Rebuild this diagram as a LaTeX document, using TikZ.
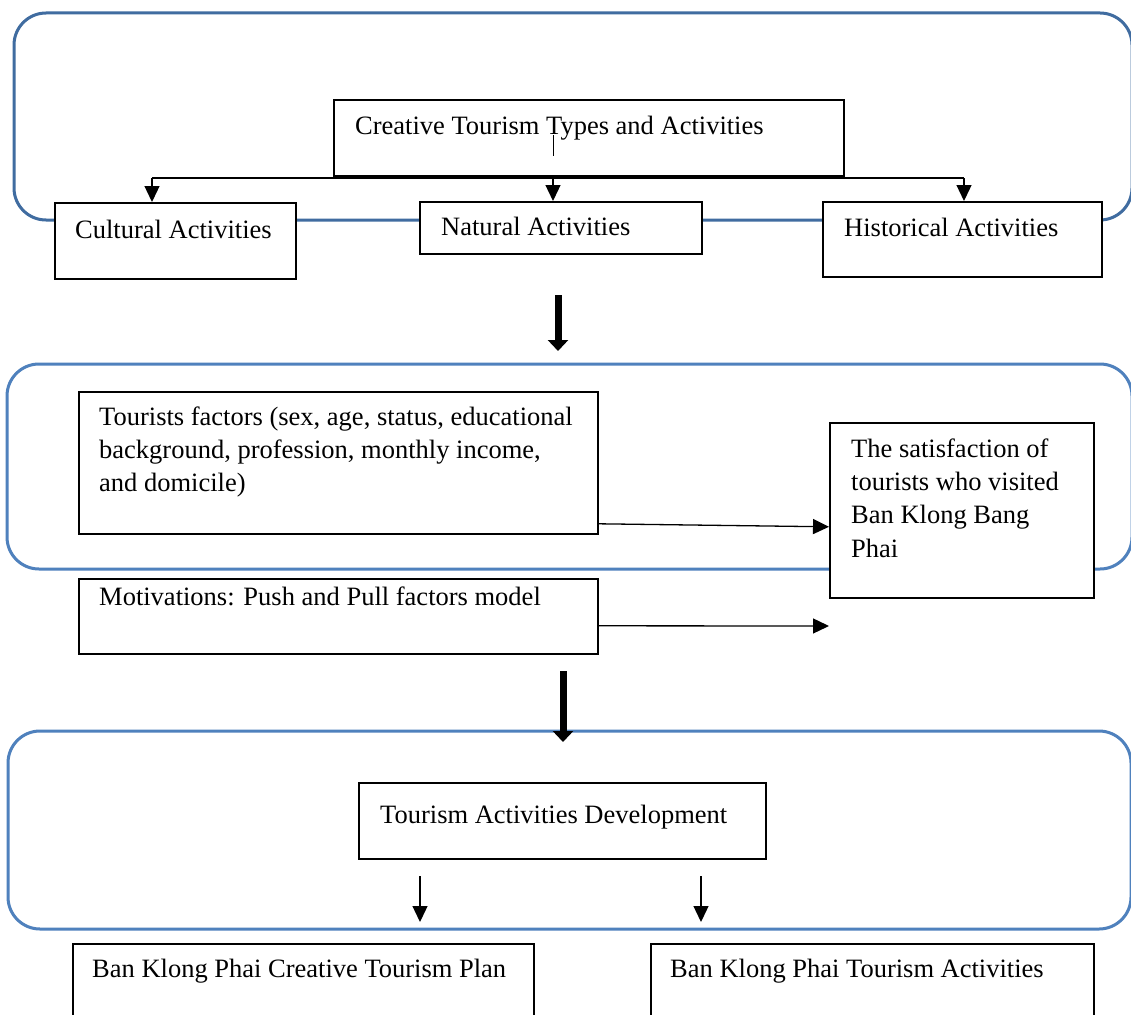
\documentclass[tikz,border=0pt]{standalone}
\usepackage{fontspec}
\setmainfont{Liberation Serif}
\usetikzlibrary{arrows.meta}
\definecolor{grpA}{RGB}{64,108,160}
\definecolor{grpB}{RGB}{79,129,189}
\begin{document}
\begin{tikzpicture}[x=1pt,y=-1pt,
  txt/.style={font=\fontsize{26.5}{33.3}\selectfont, inner sep=0pt},
  box/.style={draw, line width=1.8pt, fill=white, inner sep=0pt, anchor=north west},
  grp/.style={draw=grpB, line width=3pt, rounded corners=32pt},
  conn/.style={line width=1.3pt, -{Triangle[length=16pt,width=15pt]}},
  plain/.style={line width=1.3pt},
  big/.style={line width=7pt, -{Triangle[length=11pt,width=20pt]}}]
\useasboundingbox (0,0) rectangle (1131,1014);
\fill[white] (0,0) rectangle (1131,1014);

% group frames
\draw[grp, draw=grpA] (14,13) rectangle (1132,220);
\draw[grp] (7,364) rectangle (1132,569);
\draw[grp] (8,731) rectangle (1131,929);

% boxes
\node[box, minimum width=510pt, minimum height=76pt] (ct) at (333,99) {};
\node[box, minimum width=241pt, minimum height=76pt] (cul) at (54,202) {};
\node[box, minimum width=282pt, minimum height=52pt] (nat) at (419,201) {};
\node[box, minimum width=279pt, minimum height=75pt] (his) at (822,201) {};
\node[box, minimum width=519pt, minimum height=142pt] (tour) at (78,391) {};
\node[box, minimum width=264pt, minimum height=175pt] (sat) at (829,422) {};
\node[box, minimum width=519pt, minimum height=75pt] (mot) at (78,578) {};
\node[box, minimum width=407pt, minimum height=76pt] (tad) at (358,782) {};
\node[box, minimum width=461pt, minimum height=100pt] (plan) at (72,943) {};
\node[box, minimum width=443pt, minimum height=100pt] (act) at (650,943) {};

% texts
\node[txt, anchor=base west] (tct) at (355,134) {Creative Tourism Types and Activities};
\node[txt, anchor=base west] (tcul) at (75,238) {Cultural Activities};
\node[txt, anchor=base west] (tnat) at (441,235) {Natural Activities};
\node[txt, anchor=base west] (this) at (844,236) {Historical Activities};
\node[txt, anchor=north west, align=left] (ttour) at (99,401.7)
  {\strut Tourists factors (sex, age, status, educational\\background, profession, monthly income,\\and domicile)};
\node[txt, anchor=north west, align=left] (tsat) at (851,433.7)
  {\strut The satisfaction of\\tourists who visited\\Ban Klong Bang\\Phai};
\node[txt, anchor=base west] (tmot) at (99,605) {Motivations: Push and Pull factors model};
\node[txt, anchor=base west] (ttad) at (380,823) {Tourism Activities Development};
\node[txt, anchor=base west] (tplan) at (92,977) {Ban Klong Phai Creative Tourism Plan};
\node[txt, anchor=base west] (tact) at (670,977) {Ban Klong Phai Tourism Activities};

% small tick inside top box
\draw[line width=1pt] (553,135) -- (553,156);

% branching connector
\coordinate (b1) at (152,178);
\coordinate (b2) at (553,178);
\coordinate (b3) at (964,178);
\draw[plain] (b1) -- (b3);
\draw[conn] (b1) -- (b1 |- cul.north);
\draw[conn] (b2) -- (b2 |- nat.north);
\draw[conn] (b3) -- (b3 |- his.north);

% thick arrows between stages
\coordinate (k1) at (558,295);
\coordinate (k1e) at (558,351);
\draw[big] (k1) -- (k1e);
\coordinate (k2) at (563,671);
\coordinate (k2e) at (563,742);
\draw[big] (k2) -- (k2e);

% middle arrows
\draw[conn] ([yshift=11pt]tour.south east) -- ([yshift=72pt]sat.south west);
\coordinate (mend) at (829,626);
\draw[conn] ([yshift=29pt]mot.south east) -- (mend);

% bottom arrows
\coordinate (d1) at (420,876);
\coordinate (d2) at (701,876);
\draw[conn] (d1) -- (420,922);
\draw[conn] (d2) -- (701,922);
\end{tikzpicture}
\end{document}
